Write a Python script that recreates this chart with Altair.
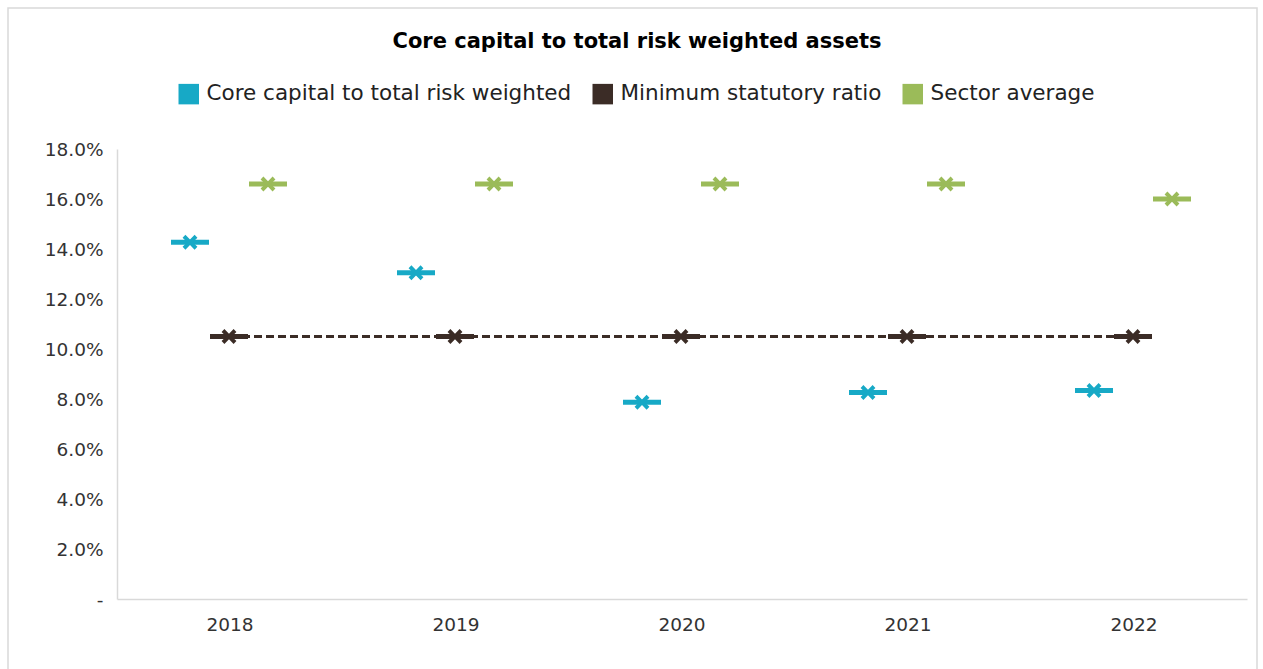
import altair as alt
import pandas as pd

years = ["2018", "2019", "2020", "2021", "2022"]
series_names = ["Core capital to total risk weighted", "Minimum statutory ratio", "Sector average"]
core = [0.1427, 0.1305, 0.0787, 0.0826, 0.0834]
minimum = [0.105, 0.105, 0.105, 0.105, 0.105]
sector = [0.166, 0.166, 0.166, 0.166, 0.160]
colors = ["#17A9C6", "#3B2C26", "#9BBB59"]
y_ticks = [0, 0.02, 0.04, 0.06, 0.08, 0.10, 0.12, 0.14, 0.16, 0.18]

rows = []
for name, vals in zip(series_names, [core, minimum, sector]):
    for yr, v in zip(years, vals):
        rows.append({"year": yr, "series": name, "value": v})
df = pd.DataFrame(rows)

FONT = "DejaVu Sans"
X_SHAPE = ("M-0.62,-1L0,-0.38L0.62,-1L1,-0.62L0.38,0L1,0.62L0.62,1L0,0.38"
           "L-0.62,1L-1,0.62L-0.38,0L-1,-0.62Z")

x_enc = alt.X("year:N", sort=years, scale=alt.Scale(paddingInner=0, paddingOuter=0),
              axis=alt.Axis(title=None, labelAngle=0, ticks=False, labelPadding=16,
                            labelFontSize=18.5, labelColor="#333333", labelFont=FONT,
                            domainColor="#d9d9d9", domainWidth=1.5))
xoff = alt.XOffset("series:N", sort=series_names,
                   scale=alt.Scale(type="point", domain=series_names, range=[73, 151], padding=0))
y_enc = alt.Y("value:Q", scale=alt.Scale(domain=[0, 0.18]),
              axis=alt.Axis(title=None, values=y_ticks, grid=False, ticks=False,
                            labelExpr="datum.value == 0 ? '-' : format(datum.value, '.1%')",
                            labelPadding=14, labelFontSize=18.5, labelColor="#333333",
                            labelFont=FONT, domainColor="#d9d9d9", domainWidth=1.5))
color_scale = alt.Scale(domain=series_names, range=colors)
color_enc = alt.Color("series:N", sort=series_names, scale=color_scale,
                      legend=alt.Legend(title=None, orient="none", direction="horizontal",
                                        legendX=61, legendY=-66, symbolType="square",
                                        symbolSize=420, symbolStrokeWidth=0,
                                        labelFontSize=21.5, labelFont=FONT, labelOffset=7,
                                        labelColor="#222222", columnPadding=20,
                                        labelLimit=500, symbolOpacity=1))

base = alt.Chart(df)

frame = alt.Chart(pd.DataFrame({"f": [0]})).mark_rect(
    fill=None, stroke="#d9d9d9", strokeWidth=1.5, clip=False
).encode(x=alt.value(-109), x2=alt.value(1140), y=alt.value(-141), y2=alt.value(540))

line = base.transform_filter(alt.datum.series == series_names[1]).mark_line(
    strokeDash=[8, 4], strokeWidth=2.8, color=colors[1]
).encode(x=x_enc, y=y_enc)

ticks = base.mark_tick(size=38, thickness=5, opacity=1).encode(
    x=x_enc, xOffset=xoff, y=y_enc, color=color_enc
)

crosses = base.mark_point(shape=X_SHAPE, size=220, filled=True, opacity=1).encode(
    x=x_enc, xOffset=xoff, y=y_enc,
    color=alt.Color("series:N", sort=series_names, scale=color_scale, legend=None)
)

chart = alt.layer(frame, line, ticks, crosses).properties(
    width=1130, height=450,
    title=alt.TitleParams("Core capital to total risk weighted assets", anchor="middle",
                          dx=-45, offset=-45, fontSize=21, fontWeight="bold",
                          font=FONT, color="#000000"),
    autosize=alt.AutoSizeParams(type="none"),
    padding={"left": 117, "top": 149, "right": 16, "bottom": 70},
    background="white",
).configure_view(stroke=None)

chart.save("out.html", embed_options={"renderer": "svg", "actions": False})
